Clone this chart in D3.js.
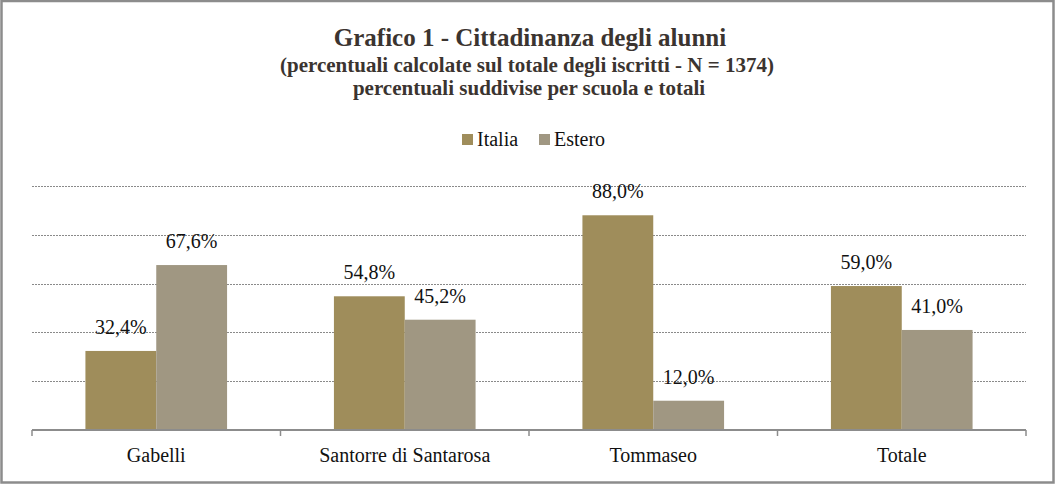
<!DOCTYPE html>
<html><head><meta charset="utf-8">
<script src="https://cdn.jsdelivr.net/npm/d3@7"></script>
<style>
html,body{margin:0;padding:0;background:#fff;}
text{font-family:"Liberation Serif","DejaVu Serif",serif;}
</style></head>
<body>
<svg id="c" width="1056" height="484"></svg>
<script>
const categories = ["Gabelli", "Santorre di Santarosa", "Tommaseo", "Totale"];
const seriesNames = ["Italia", "Estero"];
const italia = [32.4, 54.8, 88.0, 59.0];
const estero = [67.6, 45.2, 12.0, 41.0];
const yTicks = [0, 20, 40, 60, 80, 100];
const colors = ["#9F8D5B", "#A09782"];
const titleLines = ["Grafico 1 - Cittadinanza degli alunni",
  "(percentuali calcolate sul totale degli iscritti - N = 1374)",
  "percentuali suddivise per scuola e totali"];

const svg = d3.select("#c");
const W = 1056, H = 484;
svg.append("rect").attr("x",1.5).attr("y",1).attr("width",W-4).attr("height",H-2.5)
  .attr("fill","#fff").attr("stroke","#8c8c8c").attr("stroke-width",2.5);

const x0 = d3.scaleBand().domain(categories).range([32,1026]).paddingInner(0.43).paddingOuter(0.215);
const x1 = d3.scaleBand().domain(seriesNames).range([0,x0.bandwidth()]);
const y = d3.scaleLinear().domain([0,100]).range([430,186]);

// grid
svg.append("g").selectAll("line").data(yTicks.filter(d=>d>0)).join("line")
  .attr("x1",32).attr("x2",1026).attr("y1",d=>Math.round(y(d))+0.5).attr("y2",d=>Math.round(y(d))+0.5)
  .attr("stroke","#8a8a8a").attr("stroke-width",1).attr("stroke-dasharray","2,1");

const data = categories.map((c,i)=>({cat:c, vals:[{s:"Italia",v:italia[i]},{s:"Estero",v:estero[i]}]}));
const g = svg.append("g").selectAll("g").data(data).join("g")
  .attr("transform",d=>`translate(${x0(d.cat)},0)`);
g.selectAll("rect").data(d=>d.vals).join("rect")
  .attr("x",d=>x1(d.s)).attr("width",x1.bandwidth())
  .attr("y",d=>y(d.v)).attr("height",d=>y(0)-y(d.v))
  .attr("fill",(d,i)=>colors[i]);
g.selectAll("text").data(d=>d.vals).join("text")
  .attr("x",d=>x1(d.s)+x1.bandwidth()/2).attr("y",d=>y(d.v)-17)
  .attr("text-anchor","middle").attr("font-size",20).attr("fill","#111")
  .text(d=>d.v.toFixed(1).replace(".",",")+"%");

// x axis
const xAxis = d3.axisBottom(x0).tickSize(0).tickPadding(0);
const ax = svg.append("g").attr("transform","translate(0,430)").call(xAxis);
ax.select(".domain").remove();
ax.selectAll("text").attr("font-size",20).attr("fill","#111").attr("dy",0).attr("y",32)
  .style("font-family","'Liberation Serif',serif");
svg.append("line").attr("x1",32).attr("x2",1026).attr("y1",430).attr("y2",430)
  .attr("stroke","#8c8c8c").attr("stroke-width",2);
const bounds = categories.map(c=>x0(c)-x0.step()*0.215).concat([1026]);
svg.append("g").selectAll("line").data(bounds).join("line")
  .attr("x1",d=>d).attr("x2",d=>d).attr("y1",430).attr("y2",436)
  .attr("stroke","#8c8c8c").attr("stroke-width",1.5);

// title
svg.append("text").attr("x",530).attr("y",46).attr("text-anchor","middle")
  .attr("font-size",25).attr("font-weight","bold").attr("fill","#3b3430").text(titleLines[0]);
svg.append("text").attr("x",527).attr("y",72).attr("text-anchor","middle")
  .attr("font-size",21).attr("font-weight","bold").attr("fill","#3b3430").text(titleLines[1]);
svg.append("text").attr("x",529).attr("y",95).attr("text-anchor","middle")
  .attr("font-size",21).attr("font-weight","bold").attr("fill","#3b3430").text(titleLines[2]);

// legend
const legX = [462, 539];
const lg = svg.append("g").selectAll("g").data(seriesNames).join("g")
  .attr("transform",(d,i)=>`translate(${legX[i]},134)`);
lg.append("rect").attr("width",11).attr("height",11).attr("fill",(d,i)=>colors[i]);
lg.append("text").attr("x",15).attr("y",11.5).attr("font-size",20).attr("fill","#111").text(d=>d);
</script>
</body></html>
